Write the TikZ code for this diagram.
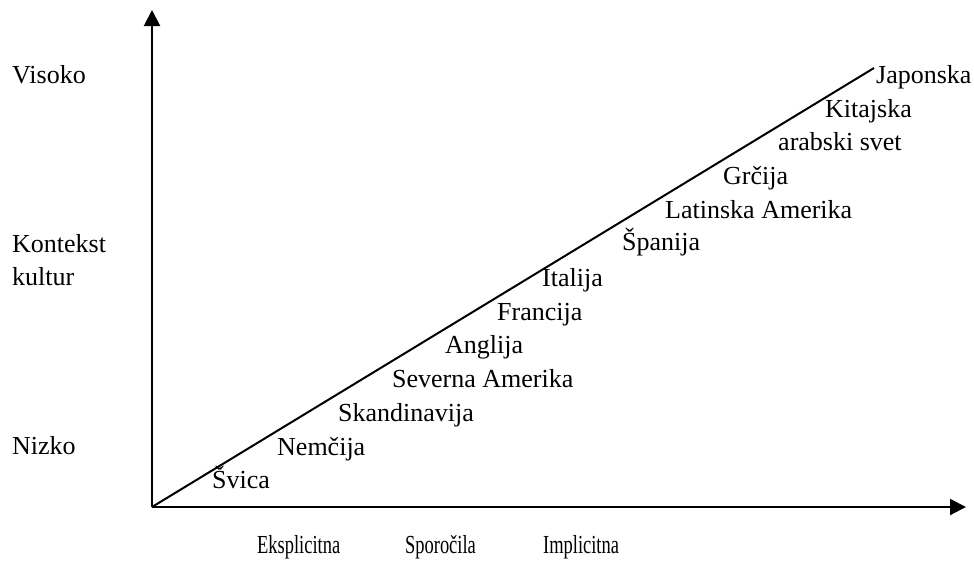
\documentclass[tikz,border=0pt]{standalone}
\usepackage{fontspec}
\setmainfont{Liberation Serif}
\usetikzlibrary{arrows.meta}
\begin{document}
\begin{tikzpicture}[x=1pt,y=-1pt,
  lbl/.style={anchor=base west,inner sep=0pt,font=\fontsize{26}{30}\selectfont},
  xlbl/.style={lbl,xscale=0.71},
  axis/.style={line width=2pt,-{Triangle[length=16pt,width=16pt]}},
  diag/.style={line width=2pt}]
\useasboundingbox[fill=white] (0,0) rectangle (974,560);
\coordinate (o) at (152,507);
\coordinate (ytip) at (152,10);
\coordinate (xtip) at (966,507);
\coordinate (dend) at (874,68);
\draw[axis] (o) -- (ytip);
\draw[axis] (o) -- (xtip);
\draw[diag] (o) -- (dend);
% y labels
\node[lbl] (visoko) at (12,83) {Visoko};
\node[lbl] (kontekst) at (12,252) {Kontekst};
\node[lbl] (kultur) at (12,285) {kultur};
\node[lbl] (nizko) at (12,454) {Nizko};
% x labels
\node[xlbl] (eks) at (257,553) {Eksplicitna};
\node[xlbl] (spo) at (405,553) {Sporočila};
\node[xlbl] (imp) at (543,553) {Implicitna};
% countries
\node[lbl] (svica) at (212,488) {Švica};
\node[lbl] (nemcija) at (277,455) {Nemčija};
\node[lbl] (skand) at (338,421) {Skandinavija};
\node[lbl] (sevam) at (392,387) {Severna Amerika};
\node[lbl] (anglija) at (445,353) {Anglija};
\node[lbl] (francija) at (497,320) {Francija};
\node[lbl] (italija) at (542,286) {Italija};
\node[lbl] (spanija) at (622,250) {Španija};
\node[lbl] (latam) at (665,218) {Latinska Amerika};
\node[lbl] (grcija) at (723,184) {Grčija};
\node[lbl] (arab) at (778,150) {arabski svet};
\node[lbl] (kitajska) at (825,117) {Kitajska};
\node[lbl] (japonska) at (876,83) {Japonska};
\end{tikzpicture}
\end{document}
